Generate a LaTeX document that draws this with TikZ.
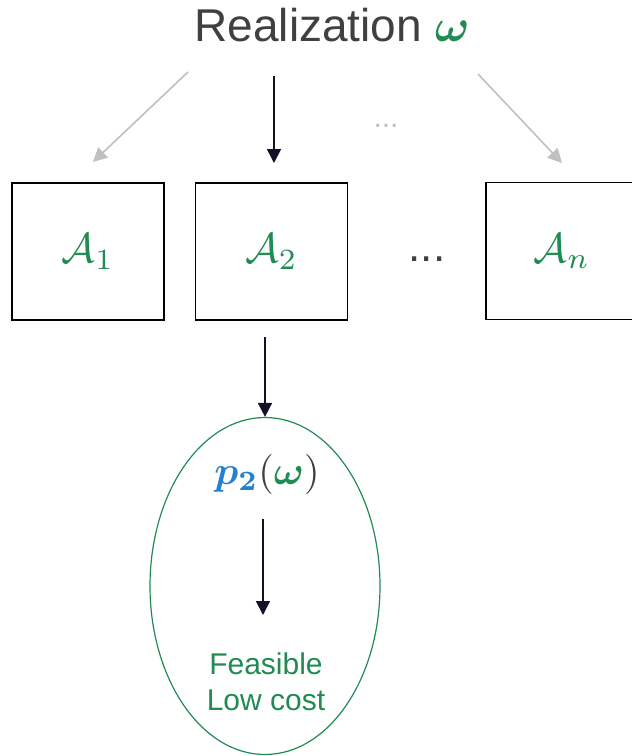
\documentclass[tikz,border=0pt]{standalone}
\usepackage{amsmath,bm}
\usepackage[no-math]{fontspec}
\newfontfamily\arial{Liberation Sans}
\usetikzlibrary{arrows.meta,shapes.geometric}
\definecolor{leafgreen}{RGB}{34,139,84}
\definecolor{skyblue}{RGB}{38,128,210}
\definecolor{inkgray}{RGB}{64,64,64}
\definecolor{paleline}{RGB}{192,192,192}
\definecolor{navy}{RGB}{20,16,40}
\tikzset{
  agent/.style={draw=black, line width=1.2pt, minimum width=152pt, minimum height=137pt, inner sep=0pt, text=leafgreen},
  pick/.style={-{Triangle[length=14pt,width=14pt]}, line width=1.6pt, draw=navy, fill=navy},
  skip/.style={-{Triangle[length=14pt,width=14pt]}, line width=1.6pt, draw=paleline, fill=paleline},
}
\newcommand{\agentname}[1]{\scalebox{4.2}{$\mathcal{A}_{#1}$}}
\begin{document}
\begin{tikzpicture}[x=1pt,y=-1pt]
    \useasboundingbox (0,0) rectangle (632,756);
    % realization on top
    \node[text=inkgray, font=\arial\fontsize{46}{50}\selectfont] (title) at (332,25) {Realization \scalebox{4.6}{\normalsize${\color{leafgreen}\bm{\omega}}$}};
    \coordinate (s1) at (188,72);
    \coordinate (e1) at (93,162);
    \coordinate (s2) at (274,76);
    \coordinate (e2) at (274,163);
    \coordinate (s3) at (478,74);
    \coordinate (e3) at (562,163);
    \draw[skip] (s1) -- (e1);
    \draw[pick] (s2) -- (e2);
    \draw[skip] (s3) -- (e3);
    \node[text=paleline, font=\arial\fontsize{30}{32}\selectfont] (gdots) at (386,126) {...};
    % agents
    \node[agent] (a1) at (88,251.5) {\agentname{1}};
    \node[agent] (a2) at (271.5,251.5) {\agentname{2}};
    \node[agent] (an) at (562,251) {\agentname{n}};
    \node[text=inkgray, font=\arial\fontsize{44}{48}\selectfont] (bdots) at (427,259) {...};
    % the chosen one
    \node[ellipse, draw=leafgreen, line width=1.2pt, minimum width=230pt, minimum height=337pt] (p2) at (265,586) {};
    \draw[pick] (p2.north |- 0,337) -- (p2.north);
    \node[text=inkgray] (price) at (267,474) {\scalebox{4}{${\color{skyblue}\bm{p_2}}({\color{leafgreen}\bm{\omega}})$}};
    \node[text=leafgreen, font=\arial\fontsize{30}{36}\selectfont, align=center] (good) at (266,682) {Feasible\\Low cost};
    \coordinate (s4) at (263,519);
    \coordinate (e4) at (263,615);
    \draw[pick] (s4) -- (e4);
\end{tikzpicture}
\end{document}
